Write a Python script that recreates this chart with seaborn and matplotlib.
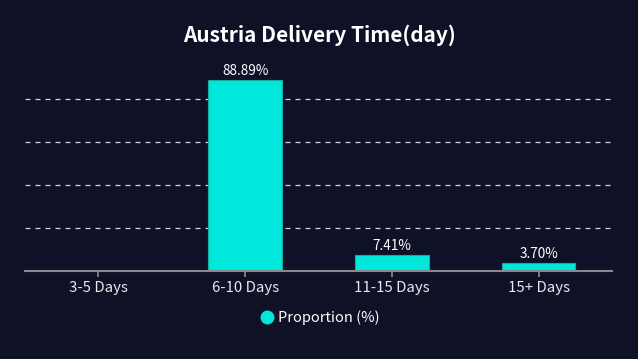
import matplotlib
matplotlib.use("Agg")
import matplotlib.pyplot as plt
import seaborn as sns
import pandas as pd
from matplotlib.lines import Line2D

categories = ["3-5 Days", "6-10 Days", "11-15 Days", "15+ Days"]
values = [0.0, 88.89, 7.41, 3.70]
labels = ["", "88.89%", "7.41%", "3.70%"]

bg = "#0F1226"
bar_color = "#00E8DC"

sns.set_theme(style="dark")
plt.rcParams["font.family"] = ["Noto Sans CJK SC", "DejaVu Sans"]

fig = plt.figure(figsize=(6.38, 3.59), dpi=100, facecolor=bg)
ax = fig.add_axes([25/638, 1-271/359, (612-25)/638, (271-80)/359])
ax.set_facecolor(bg)

df = pd.DataFrame({"cat": categories, "val": values})
sns.barplot(data=df, x="cat", y="val", ax=ax, color=bar_color, width=0.5,
            edgecolor="#1aa9a3", linewidth=0.8, saturation=1)

ax.set_ylim(0, 88.89)
ax.set_xlim(-0.5, 3.5)
ax.set_yticks([20, 40, 60, 80])
ax.yaxis.grid(True, color="#d0d0d8", linestyle=(0, (4, 4)), linewidth=0.9)
ax.xaxis.grid(False)
ax.set_axisbelow(True)
ax.tick_params(axis="y", left=False, labelleft=False)
ax.tick_params(axis="x", bottom=True, length=4, color="#888890", colors="#e8e8ee",
               labelsize=10.8, pad=3)
ax.set_xlabel("")
ax.set_ylabel("")
for s in ["top", "right", "left"]:
    ax.spines[s].set_visible(False)
ax.spines["bottom"].set_color("#888890")
ax.spines["bottom"].set_linewidth(1.5)

for i, (v, t) in enumerate(zip(values, labels)):
    if t:
        ax.annotate(t, (i, v), xytext=(0, 1.5), textcoords="offset points",
                    ha="center", va="bottom", color="white", fontsize=9.8)

fig.text(0.5, 1-35/359, "Austria Delivery Time(day)", ha="center", va="center",
         color="white", fontsize=15, fontweight="bold")

handle = Line2D([], [], marker="o", linestyle="", markersize=9,
                markerfacecolor=bar_color, markeredgecolor=bar_color)
fig.legend([handle], ["Proportion (%)"], loc="center", bbox_to_anchor=(0.5, 1-318/359),
           frameon=False, labelcolor="white", fontsize=10.5, handletextpad=0.2,
           handlelength=1.2)

fig.savefig("out.png", dpi=100, facecolor=bg)
